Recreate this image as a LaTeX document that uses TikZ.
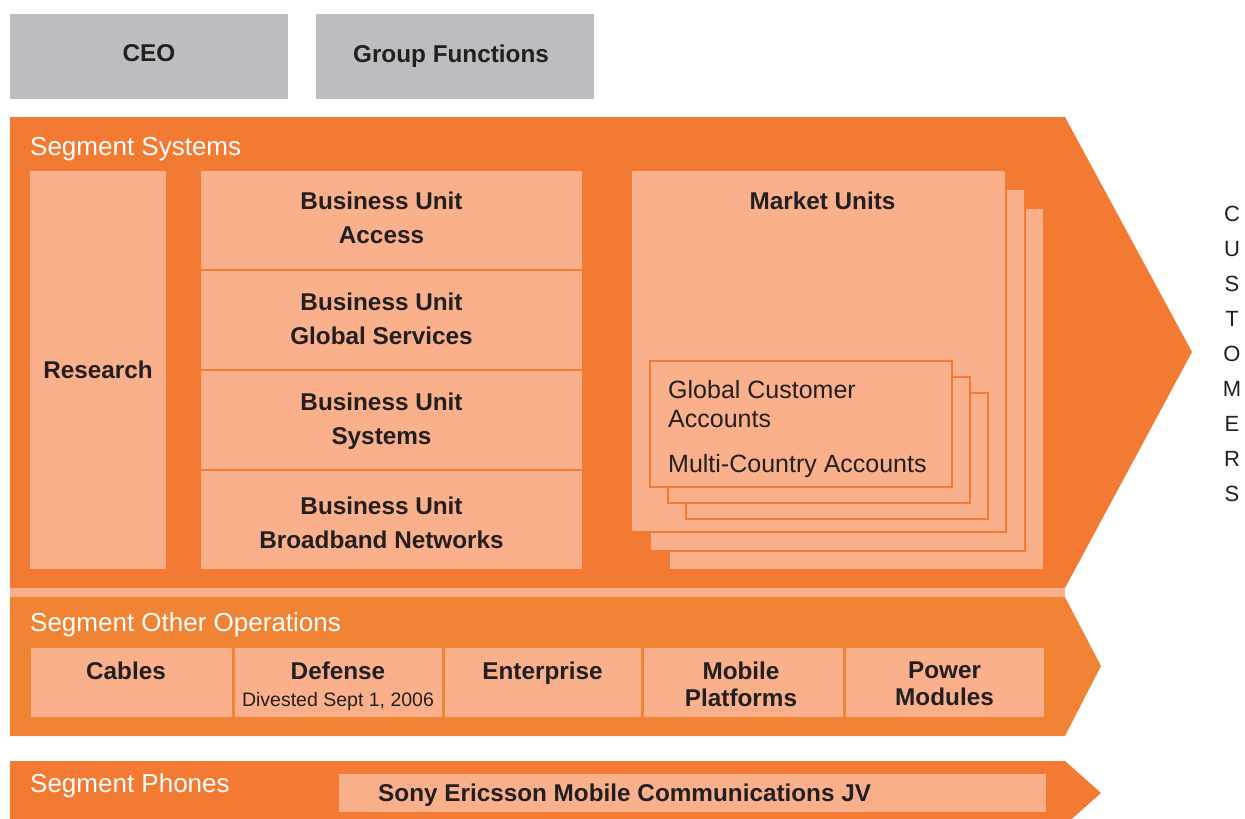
\documentclass[tikz,border=0pt]{standalone}
\usepackage{fontspec}
\setmainfont{Liberation Sans}
\usepackage{xcolor}
\usepackage{tikz}
\usetikzlibrary{positioning}

\definecolor{segorange}{RGB}{243,122,51}
\definecolor{opsorange}{RGB}{240,131,52}
\definecolor{unitpeach}{RGB}{249,176,139}
\definecolor{mgmtgray}{RGB}{188,189,192}
\definecolor{inktext}{RGB}{35,31,32}

\begin{document}
\begin{tikzpicture}[
    x=1pt, y=-1pt,
    mgmt/.style={rectangle, fill=mgmtgray, anchor=north west, outer sep=0, minimum width=278, minimum height=85, inner sep=0, text height=17, text depth=7, text=inktext, font=\fontsize{24.3}{27}\selectfont\bfseries},
    unit/.style={rectangle, fill=unitpeach, draw=segorange, line width=2pt, anchor=north west, outer sep=0, inner sep=0, align=center, text=inktext, font=\fontsize{24.3}{34}\selectfont\bfseries},
    opunit/.style={unit, draw=opsorange, line width=3pt, minimum height=72},
    sheet/.style={unit, minimum width=375, minimum height=362},
    account/.style={unit, minimum width=302, minimum height=126},
    segment/.style={anchor=base west, inner sep=0, text=white, font=\fontsize{26}{30}\selectfont},
    caption/.style={anchor=north, inner sep=0, align=center, text=inktext, font=\fontsize{24.3}{27}\selectfont\bfseries},
    bulabel/.style={caption, anchor=center, font=\fontsize{24.3}{34}\selectfont\bfseries}
]

\useasboundingbox (0,0) rectangle (1245,819);
\clip (0,0) rectangle (1245,819);

% Management
\node[mgmt] (ceo) at (10,14) {CEO};
\node[mgmt] (group_functions) at (316,14) {};
\node[caption, anchor=center] (group_label) at ([xshift=-4pt]group_functions.center) {Group Functions};

% Segment arrows
\fill[segorange] (10,117) -- (1065,117) -- (1192,352) -- (1065,588) -- (10,588) -- cycle;
\fill[unitpeach] (10,588) rectangle (1065,597);
\fill[opsorange] (10,597) -- (1065,597) -- (1101,666) -- (1065,736) -- (10,736) -- cycle;
\fill[segorange] (10,761) -- (1065,761) -- (1101,793) -- (1065,825) -- (10,825) -- cycle;

\node[segment] (seg_systems) at (30,155) {Segment Systems};
\node[segment] (seg_other) at (30,631) {Segment Other Operations};
\node[segment] (seg_phones) at (30,792) {Segment Phones};

% Segment Systems
\node[unit, minimum width=138, minimum height=400] (research) at (29,170) {Research};
\node[unit, minimum width=383, minimum height=100] (bu_access) at (200,170) {};
\node[unit, minimum width=383, minimum height=100] (bu_services) at (200,270) {};
\node[unit, minimum width=383, minimum height=100] (bu_systems) at (200,370) {};
\node[unit, minimum width=383, minimum height=100] (bu_broadband) at (200,470) {};

\node[bulabel] (access_label) at ([xshift=-10pt, yshift=2pt]bu_access.center) {Business Unit\\Access};
\node[bulabel] (services_label) at ([xshift=-10pt, yshift=1pt]bu_services.center) {Business Unit\\Global Services};
\node[bulabel] (systems_label) at ([xshift=-10pt, yshift=-1.5pt]bu_systems.center) {Business Unit\\Systems};
\node[bulabel] (broadband_label) at ([xshift=-10pt, yshift=-3pt]bu_broadband.center) {Business Unit\\Broadband Networks};

% Market Units
\node[sheet] (mu_back) at (669,208) {};
\node[sheet] (mu_mid) at (650,189) {};
\node[sheet] (mu_front) at (631,170) {};
\node[caption] (mu_title) at ([xshift=4pt, yshift=-22pt]mu_front.north) {Market Units};

\node[account] (gca_back) at (686,393) {};
\node[account] (gca_mid) at (668,377) {};
\node[account] (gca_front) at (650,361) {};
\node[anchor=north west, inner sep=0, align=left, text=inktext, font=\fontsize{25}{29}\selectfont] (gca_text) at ([xshift=18pt, yshift=-19pt]gca_front.north west) {Global Customer\\Accounts\\[16pt]Multi-Country Accounts};

\node[text=inktext, align=center, inner sep=0, font=\fontsize{22}{34.9}\selectfont] (customers) at (1232,354) {C\\U\\S\\T\\O\\M\\E\\R\\S};

% Segment Other Operations
\node[opunit, minimum width=204] (cables) at (29,646) {};
\node[opunit, minimum width=210] (defense) at (233,646) {};
\node[opunit, minimum width=199] (enterprise) at (443,646) {};
\node[opunit, minimum width=202] (mobile_platforms) at (642,646) {};
\node[opunit, minimum width=201] (power_modules) at (844,646) {};

\node[caption] at ([xshift=-5pt, yshift=-16pt]cables.north) {Cables};
\node[caption] at ([yshift=-16pt]defense.north) {Defense\\{\fontsize{19.5}{27}\selectfont\mdseries Divested Sept 1, 2006}};
\node[caption] at ([yshift=-16pt]enterprise.north) {Enterprise};
\node[caption] at ([xshift=-2pt, yshift=-16pt]mobile_platforms.north) {Mobile\\Platforms};
\node[caption] at ([yshift=-16pt]power_modules.north) {Power\\Modules};

% Segment Phones
\node[unit, draw=none, minimum width=707, minimum height=38] (sony_ericsson) at (339,774) {};
\node[caption, anchor=west] (sony_label) at ([xshift=39pt, yshift=-2.5pt]sony_ericsson.west) {Sony Ericsson Mobile Communications JV};

\end{tikzpicture}
\end{document}
